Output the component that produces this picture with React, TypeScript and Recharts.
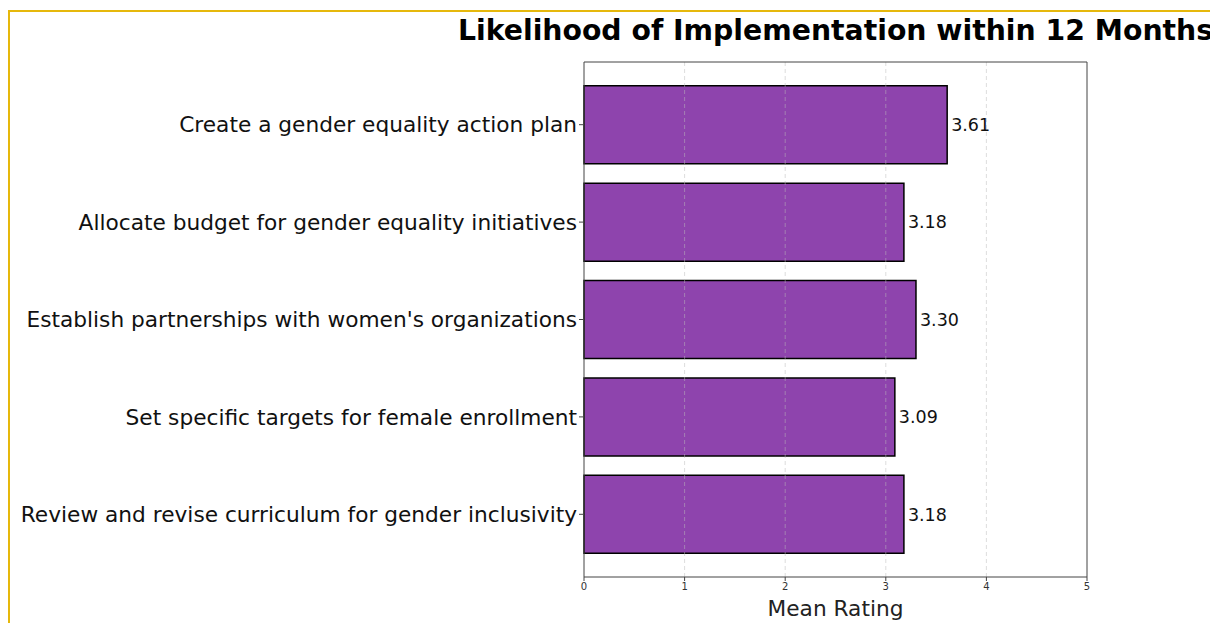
import { Bar, BarChart, LabelList, ReferenceLine, XAxis, YAxis } from 'recharts'

const actions = [
  'Create a gender equality action plan',
  'Allocate budget for gender equality initiatives',
  "Establish partnerships with women's organizations",
  'Set specific targets for female enrollment',
  'Review and revise curriculum for gender inclusivity',
]
const meanRatings = [3.61, 3.18, 3.3, 3.09, 3.18]
const ratingTicks = [0, 1, 2, 3, 4, 5]

const rows = actions.map((action, i) => ({ action, mean: meanRatings[i] }))

const font = "'DejaVu Sans', sans-serif"
const spine = '#444'

export default function App() {
  return (
    <div style={{ position: 'fixed', left: 0, top: 0, width: 1210, height: 623, background: '#fff', overflow: 'hidden', fontFamily: font }}>
      <div style={{ position: 'absolute', left: 8, top: 10, width: 1300, height: 700, borderLeft: '2px solid #e6b80c', borderTop: '2px solid #e6b80c' }} />
      <div style={{ position: 'absolute', left: 835.5, top: 15, transform: 'translateX(-50%)', whiteSpace: 'nowrap', fontSize: 28.3, fontWeight: 'bold', color: '#000', lineHeight: '32px' }}>
        Likelihood of Implementation within 12 Months
      </div>
      <div style={{ position: 'absolute', left: 0, top: 0 }}>
        <BarChart width={1210} height={623} data={rows} layout="vertical" margin={{ top: 61, right: 123, left: 0, bottom: 0 }} barCategoryGap="10%">
          <XAxis
            type="number"
            domain={[0, 5]}
            ticks={ratingTicks}
            height={46}
            tick={{ fill: '#333', fontSize: 10, fontFamily: font }}
            tickSize={4}
            tickLine={{ stroke: spine }}
            axisLine={{ stroke: spine }}
            label={{ value: 'Mean Rating', position: 'insideBottom', offset: 7, fill: '#222', fontSize: 21.7, fontFamily: font }}
          />
          <XAxis xAxisId="top" orientation="top" type="number" domain={[0, 5]} height={1} tick={false} tickLine={false} axisLine={{ stroke: spine }} />
          <YAxis
            type="category"
            dataKey="action"
            width={584}
            padding={{ top: 14, bottom: 14 }}
            tick={{ fill: '#111', fontSize: 21.7, fontFamily: font }}
            tickSize={5}
            tickLine={{ stroke: spine }}
            axisLine={{ stroke: spine }}
          />
          <YAxis yAxisId="ghost" type="category" dataKey="action" hide />
          <Bar dataKey="mean" fill="#8e44ad" stroke="#000" strokeWidth={1.5} isAnimationActive={false}>
            <LabelList dataKey="mean" position="right" offset={4} formatter={(v: number) => v.toFixed(2)} style={{ fill: '#111', fontSize: 17.5, fontFamily: font }} />
          </Bar>
          <Bar xAxisId="top" yAxisId="ghost" dataKey="mean" fill="none" stroke="none" legendType="none" isAnimationActive={false} />
          {ratingTicks.slice(1, -1).map((t) => (
            <ReferenceLine key={t} x={t} stroke="#bbb" strokeOpacity={0.5} strokeDasharray="4 3" strokeWidth={1} />
          ))}
          <ReferenceLine x={ratingTicks[ratingTicks.length - 1]} stroke={spine} strokeWidth={1} />
        </BarChart>
      </div>
    </div>
  )
}
